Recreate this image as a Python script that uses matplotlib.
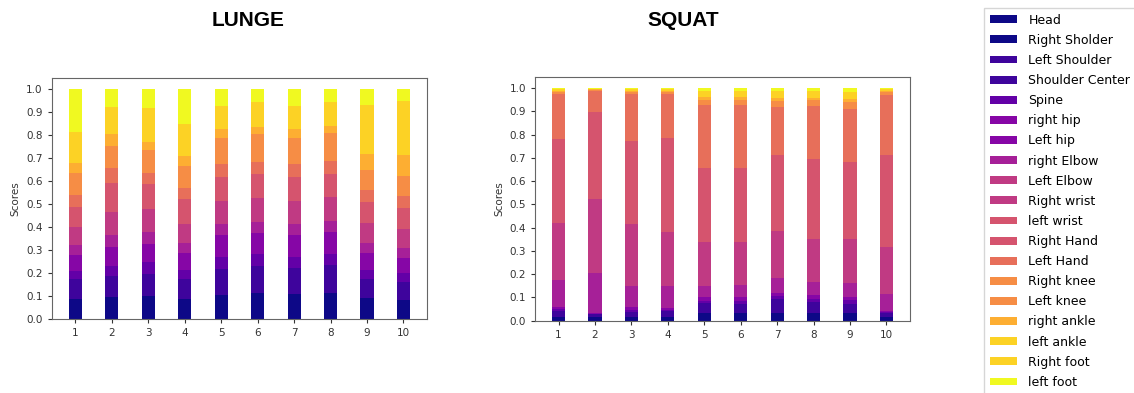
"""Stacked joint score bars for lunge and squat, ten samples each."""
import matplotlib; matplotlib.use('Agg')  # noqa: E702
import matplotlib.pyplot as plt
import numpy as np

SAMPLES = [1, 2, 3, 4, 5, 6, 7, 8, 9, 10]
JOINTS = ['Head', 'Right Sholder', 'Left Shoulder', 'Shoulder Center', 'Spine',
          'right hip', 'Left hip', 'right Elbow', 'Left Elbow', 'Right wrist',
          'left wrist', 'Right Hand', 'Left Hand', 'Right knee', 'Left knee',
          'right ankle', 'left ankle', 'Right foot', 'left foot']
# joints sharing a colour step of the plasma map
COLOR_STEP = [0, 0, 1, 1, 2, 3, 3, 4, 5, 5, 6, 6, 7, 8, 8, 9, 10, 10, 11]

LUNGE = {
    'Head':            [.044, .049, .051, .044, .053, .058, .056, .058, .046, .042],
    'Right Sholder':   [.043, .048, .050, .043, .053, .058, .056, .058, .045, .042],
    'Left Shoulder':   [.044, .046, .048, .044, .056, .058, .055, .060, .042, .040],
    'Shoulder Center': [.043, .045, .048, .043, .055, .058, .055, .060, .041, .040],
    'Spine':           [.036, .044, .051, .040, .053, .051, .048, .048, .040, .036],
    'right hip':       [.035, .041, .041, .037, .049, .047, .049, .049, .038, .034],
    'Left hip':        [.035, .040, .040, .036, .048, .047, .048, .048, .038, .034],
    'right Elbow':     [.043, .054, .052, .043, .046, .048, .047, .048, .043, .041],
    'Left Elbow':      [.039, .051, .049, .042, .050, .051, .051, .051, .042, .042],
    'Right wrist':     [.038, .050, .048, .042, .050, .050, .051, .050, .042, .042],
    'left wrist':      [.044, .063, .055, .055, .053, .052, .051, .052, .048, .045],
    'Right Hand':      [.044, .063, .054, .054, .053, .052, .050, .051, .047, .045],
    'Left Hand':       [.052, .063, .048, .049, .058, .056, .058, .057, .050, .055],
    'Right knee':      [.049, .049, .050, .048, .055, .061, .056, .061, .044, .044],
    'Left knee':       [.049, .048, .050, .048, .055, .060, .056, .061, .043, .043],
    'right ankle':     [.042, .050, .037, .042, .041, .029, .039, .030, .068, .089],
    'left ankle':      [.068, .060, .073, .069, .051, .054, .052, .051, .108, .119],
    'Right foot':      [.068, .059, .072, .069, .050, .053, .051, .050, .107, .118],
    'left foot':       [.184, .077, .083, .152, .071, .057, .071, .057, .068, .049],
}

SQUAT = {
    'Head':            [.009, .007, .009, .009, .016, .016, .017, .017, .017, .009],
    'Right Sholder':   [.008, .007, .008, .008, .016, .016, .017, .017, .017, .008],
    'Left Shoulder':   [.013, .007, .011, .012, .022, .020, .029, .024, .019, .008],
    'Shoulder Center': [.013, .006, .011, .011, .021, .020, .029, .024, .019, .007],
    'Spine':           [.007, .002, .009, .007, .010, .013, .013, .013, .016, .005],
    'right hip':       [.004, .001, .005, .003, .009, .009, .008, .008, .008, .003],
    'Left hip':        [.003, .001, .004, .003, .009, .009, .007, .007, .007, .003],
    'right Elbow':     [.118, .173, .094, .098, .048, .052, .064, .055, .058, .072],
    'Left Elbow':      [.122, .160, .133, .115, .093, .091, .102, .094, .095, .101],
    'Right wrist':     [.122, .160, .132, .114, .093, .091, .101, .094, .094, .100],
    'left wrist':      [.181, .187, .180, .203, .161, .160, .163, .172, .167, .198],
    'Right Hand':      [.180, .186, .179, .202, .161, .159, .162, .172, .166, .198],
    'Left Hand':       [.196, .093, .201, .191, .271, .274, .206, .227, .229, .259],
    'Right knee':      [.005, .002, .005, .005, .010, .010, .014, .012, .014, .006],
    'Left knee':       [.004, .002, .004, .004, .010, .010, .013, .012, .014, .005],
    'right ankle':     [.005, .002, .005, .005, .012, .012, .013, .012, .015, .006],
    'left ankle':      [.004, .001, .004, .004, .014, .014, .015, .014, .015, .004],
    'Right foot':      [.003, .001, .003, .003, .014, .014, .015, .014, .015, .003],
    'left foot':       [.003, .002, .003, .003, .010, .010, .012, .012, .015, .005],
}

steps = plt.cm.plasma(np.linspace(0, 1, 12))
COLORS = [steps[i] for i in COLOR_STEP]


def _stacked(ax, data):
    bottoms = np.zeros(len(SAMPLES))
    for joint, color in zip(JOINTS, COLORS):
        vals = np.array(data[joint])
        ax.bar(SAMPLES, vals, bottom=bottoms, width=0.36, color=color,
               label=joint, linewidth=0)
        bottoms += vals
    ax.set_xticks(SAMPLES)
    ax.set_yticks(np.arange(0, 1.01, 0.1))
    ax.set_ylabel('Scores', fontsize=7.5, color='#333333')
    ax.tick_params(labelsize=7.5, colors='#333333', length=3)
    for sp in ax.spines.values():
        sp.set_color('#666666')


fig = plt.figure(figsize=(11.34, 3.93), dpi=100)
ax1 = fig.add_axes([0.0456, 0.1875, 0.331, 0.6145])
ax2 = fig.add_axes([0.4718, 0.184, 0.3307, 0.621])
_stacked(ax1, LUNGE)
_stacked(ax2, SQUAT)

fig.text(248 / 1134, 1 - 20 / 393, 'LUNGE', ha='center', va='center',
         fontsize=15, fontweight='bold', family='Liberation Sans')
fig.text(683 / 1134, 1 - 20 / 393, 'SQUAT', ha='center', va='center',
         fontsize=15, fontweight='bold', family='Liberation Sans')

handles, labels = ax1.get_legend_handles_labels()
fig.legend(handles, labels, loc='upper left', bbox_to_anchor=(984 / 1134, 1 - 8 / 393),
           borderaxespad=0, fontsize=9, labelspacing=0.57, handlelength=2.15,
           handleheight=0.6, handletextpad=0.95, borderpad=0.45,
           frameon=True, fancybox=False, edgecolor='#cccccc')

fig.savefig('out.png', dpi=100)
plt.close(fig)
print('Chart: out.png')
